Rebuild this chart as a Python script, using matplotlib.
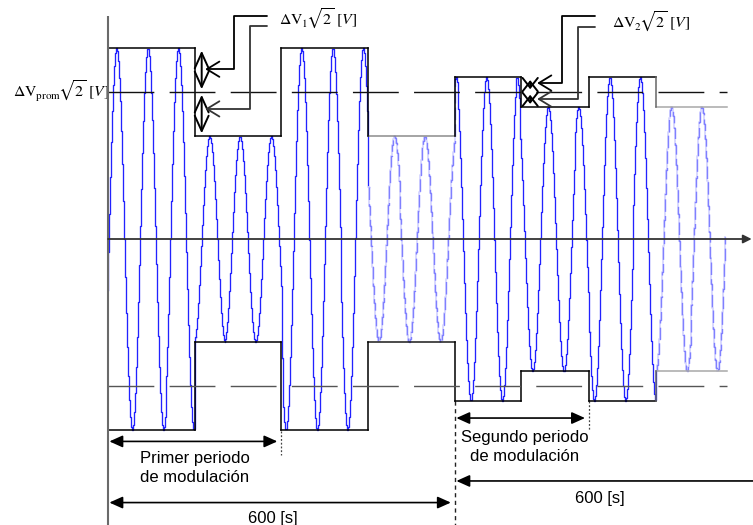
import numpy as np
import matplotlib.pyplot as plt
from matplotlib.patches import FancyArrowPatch
from matplotlib.path import Path

plt.rcParams['font.family'] = ['Liberation Sans', 'DejaVu Sans']
plt.rcParams['mathtext.fontset'] = 'stix'

# modulation steps: edges in seconds, envelope in units of dVprom*sqrt(2)
seg_edges = [0, 150, 300, 450, 600, 714, 832, 947, 1070]
seg_amp = [1.3, 0.7, 1.3, 0.7, 1.1, 0.9, 1.1, 0.9]
seg_faded = [False, False, False, True, False, False, False, True]
env_upper_col = ['k', 'k', 'k', '#8c8c8c', 'k', 'k', 'k', '#a8a8a8']
env_lower_col = ['k', 'k', 'k', '#1a1a1a', 'k', 'k', 'k', '#a8a8a8']
env_edge_col = ['k', 'k', 'k', 'k', 'k', 'k', 'k', '#666666']

# carrier
carrier_period = 53.26   # s
carrier_peak = 15.6      # first crest, s
wave_end = 1066
prom_level = 1.0
period_1 = 600
period_2 = 832

fig = plt.figure(figsize=(7.53, 5.25), dpi=100)
ax = fig.add_axes([0, 0, 1, 1])
ax.set_xlim(-186.75, 1115.3)
ax.set_ylim(-1.9456, 1.6259)
ax.axis('off')

# sampled carrier, drawn stepwise
dt = 1.7
t = np.arange(0, wave_end + dt, dt)
idx = np.clip(np.searchsorted(seg_edges, t, side='right') - 1, 0, len(seg_amp) - 1)
amp = np.array(seg_amp)[idx]
v = amp * np.cos(2 * np.pi * (t - carrier_peak) / carrier_period)

for i in range(len(seg_amp)):
    k = np.flatnonzero(idx == i)
    if len(k) == 0:
        continue
    k = np.arange(k[0], min(k[-1] + 2, len(t)))
    if seg_faded[i]:
        ax.plot(t[k], v[k], color='#d6d6ff', lw=1.3, drawstyle='steps-mid', zorder=2)
        ax.plot(t[k], v[k], color='#8080ff', lw=1.0, ls=(0, (9, 3)),
                drawstyle='steps-mid', zorder=2)
    else:
        ax.plot(t[k], v[k], color='#2222ff', lw=0.95, drawstyle='steps-mid', zorder=2)

# envelope boxes
for i, a in enumerate(seg_amp):
    x0, x1 = seg_edges[i], seg_edges[i + 1]
    ax.plot([x0, x1], [a, a], color=env_upper_col[i], lw=1.1, zorder=3)
    ax.plot([x0, x1], [-a, -a], color=env_lower_col[i], lw=1.1, zorder=3)
    if i > 0:
        ax.plot([x0, x0], [seg_amp[i - 1], a], color=env_edge_col[i], lw=1.1, zorder=3)
        ax.plot([x0, x0], [-seg_amp[i - 1], -a], color=env_edge_col[i], lw=1.1, zorder=3)

# average level
ax.plot([0, seg_edges[-1]], [prom_level, prom_level], color='#111111', lw=1.0,
        dashes=(33, 11), zorder=4)
ax.plot([0, seg_edges[-1]], [-prom_level, -prom_level], color='#555555', lw=1.0,
        dashes=(33, 11), zorder=4)

# axes
ax.plot([0, 0], [1.517, -1.946], color='#6a6a6a', lw=1.5, solid_capstyle='butt', zorder=5)
ax.add_patch(FancyArrowPatch((0, 0), (1113, 0), arrowstyle='-|>,head_length=5,head_width=2.5',
                             mutation_scale=1, lw=1.3, color='#333333',
                             shrinkA=0, shrinkB=0, zorder=5))


def dv_arrow(x, y0, y1, hl, hw):
    ax.add_patch(FancyArrowPatch((x, y0), (x, y1),
                                 arrowstyle=f'<->,head_length={hl},head_width={hw}',
                                 mutation_scale=1, lw=1.4, color='k',
                                 shrinkA=2, shrinkB=2, zorder=6))


def leader(verts, color):
    ax.add_patch(FancyArrowPatch(path=Path(verts),
                                 arrowstyle='->,head_length=9,head_width=5.5',
                                 mutation_scale=1, lw=1.3, color=color, zorder=6))


lab_fs = 11.3

# dV1 markers
dv_arrow(162, seg_amp[0], prom_level, 11, 5)
dv_arrow(162, prom_level, seg_amp[1], 11, 5)
leader([(275, 1.517), (218, 1.517), (218, 1.155), (168, 1.155)], 'k')
leader([(275, 1.449), (245.5, 1.449), (245.5, 0.885), (168, 0.885)], '#333333')
ax.text(296, 1.456, r'$\Delta\mathrm{V}_1\!\sqrt{2}\ [V]$', fontsize=lab_fs,
        ha='left', va='baseline')

# dV2 markers
dv_arrow(730, seg_amp[4], prom_level, 7, 5.5)
dv_arrow(730, prom_level, seg_amp[5], 7, 5.5)
leader([(842, 1.517), (785, 1.517), (785, 1.061), (742, 1.061)], 'k')
leader([(842, 1.442), (812.7, 1.442), (812.7, 0.952), (742, 0.952)], '#333333')
ax.text(872, 1.435, r'$\Delta\mathrm{V}_2\!\sqrt{2}\ [V]$', fontsize=lab_fs,
        ha='left', va='baseline')

ax.text(2, 0.966, r'$\Delta\mathrm{V}_{\mathrm{prom}}\!\sqrt{2}\ [V]$', fontsize=lab_fs,
        ha='right', va='baseline')


# time spans
def span(x0, x1, y, style='<|-|>'):
    ax.add_patch(FancyArrowPatch((x0, y), (x1, y),
                                 arrowstyle=f'{style},head_length=8,head_width=3.6',
                                 mutation_scale=1, lw=1.2, color='k',
                                 shrinkA=1, shrinkB=3, zorder=6))


span(0, seg_edges[2], -1.377)
span(0, period_1, -1.793)
span(period_1, period_2, -1.218)
span(period_1, 1200, -1.646, style='<|-')

ax.plot([seg_edges[2]] * 2, [-1.306, -1.469], color='#444444', lw=0.9, ls=(0, (1.5, 1.5)))
ax.plot([period_1] * 2, [-1.1, -1.946], color='#222222', lw=1.0, ls=(0, (3, 2.5)))
ax.plot([period_2] * 2, [-1.1, -1.30], color='#444444', lw=0.9, ls=(0, (1.5, 1.5)))

fs = 12
ax.text(150, -1.524, 'Primer periodo', fontsize=fs, ha='center', va='baseline')
ax.text(150, -1.653, 'de modulación', fontsize=fs, ha='center', va='baseline')
ax.text(721, -1.381, 'Segundo periodo', fontsize=fs, ha='center', va='baseline')
ax.text(721, -1.510, 'de modulación', fontsize=fs, ha='center', va='baseline')
ax.text(285, -1.935, '600 [s]', fontsize=fs, ha='center', va='baseline')
ax.text(851, -1.796, '600 [s]', fontsize=fs, ha='center', va='baseline')

fig.savefig('out.png', dpi=100)
